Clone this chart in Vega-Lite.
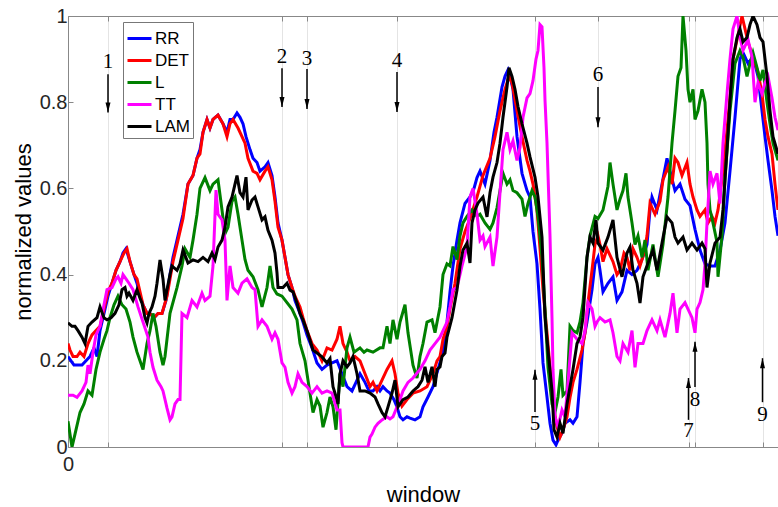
{
"$schema": "https://vega.github.io/schema/vega-lite/v6.json",
"width": 710, "height": 431,
"autosize": {"type": "none"},
"padding": {"left": 68, "top": 16, "right": 0, "bottom": 60},
"background": "white",
"config": {"view": {"stroke": null}, "font": "Liberation Sans"},
"datasets": {
"ann": [
{"lab":"1","x":40,"ty":0.893,"y1":0.865,"y2":0.776,"dir":"down"},
{"lab":"2","x":214,"ty":0.905,"y1":0.879,"y2":0.789,"dir":"down"},
{"lab":"3","x":239,"ty":0.900,"y1":0.877,"y2":0.784,"dir":"down"},
{"lab":"4","x":329,"ty":0.896,"y1":0.870,"y2":0.777,"dir":"down"},
{"lab":"5","x":467,"ty":0.053,"y1":0.081,"y2":0.179,"dir":"up"},
{"lab":"6","x":530,"ty":0.864,"y1":0.835,"y2":0.742,"dir":"down"},
{"lab":"7","x":620.5,"ty":0.037,"y1":0.063,"y2":0.160,"dir":"up"},
{"lab":"8","x":627,"ty":0.109,"y1":0.139,"y2":0.244,"dir":"up"},
{"lab":"9","x":694.5,"ty":0.074,"y1":0.104,"y2":0.206,"dir":"up"}
],
"series": [
{"s":"RR","x":0,"v":0.21},{"s":"RR","x":3,"v":0.2},{"s":"RR","x":6,"v":0.19},{"s":"RR","x":10,"v":0.19},{"s":"RR","x":14,"v":0.19},{"s":"RR","x":18,"v":0.2},{"s":"RR","x":22,"v":0.21},{"s":"RR","x":26,"v":0.23},{"s":"RR","x":29,"v":0.21},{"s":"RR","x":32,"v":0.27},{"s":"RR","x":36,"v":0.31},{"s":"RR","x":40,"v":0.35},{"s":"RR","x":44,"v":0.38},{"s":"RR","x":48,"v":0.41},{"s":"RR","x":52,"v":0.43},{"s":"RR","x":55,"v":0.45},{"s":"RR","x":58,"v":0.46},{"s":"RR","x":62,"v":0.43},{"s":"RR","x":66,"v":0.40},{"s":"RR","x":69,"v":0.38},{"s":"RR","x":72,"v":0.35},{"s":"RR","x":75,"v":0.33},{"s":"RR","x":79,"v":0.31},{"s":"RR","x":82,"v":0.31},{"s":"RR","x":86,"v":0.30},{"s":"RR","x":90,"v":0.31},{"s":"RR","x":94,"v":0.31},{"s":"RR","x":98,"v":0.34},{"s":"RR","x":102,"v":0.40},{"s":"RR","x":105,"v":0.44},{"s":"RR","x":110,"v":0.49},{"s":"RR","x":115,"v":0.54},{"s":"RR","x":120,"v":0.61},{"s":"RR","x":125,"v":0.63},{"s":"RR","x":129,"v":0.67},{"s":"RR","x":132,"v":0.69},{"s":"RR","x":135,"v":0.73},{"s":"RR","x":139,"v":0.76},{"s":"RR","x":142,"v":0.74},{"s":"RR","x":145,"v":0.76},{"s":"RR","x":150,"v":0.77},{"s":"RR","x":155,"v":0.75},{"s":"RR","x":159,"v":0.73},{"s":"RR","x":162,"v":0.76},{"s":"RR","x":165,"v":0.76},{"s":"RR","x":169,"v":0.775},{"s":"RR","x":172,"v":0.765},{"s":"RR","x":175,"v":0.75},{"s":"RR","x":178,"v":0.72},{"s":"RR","x":182,"v":0.69},{"s":"RR","x":185,"v":0.67},{"s":"RR","x":189,"v":0.66},{"s":"RR","x":192,"v":0.64},{"s":"RR","x":197,"v":0.65},{"s":"RR","x":200,"v":0.66},{"s":"RR","x":204,"v":0.63},{"s":"RR","x":207,"v":0.58},{"s":"RR","x":210,"v":0.52},{"s":"RR","x":214,"v":0.48},{"s":"RR","x":217,"v":0.44},{"s":"RR","x":220,"v":0.40},{"s":"RR","x":224,"v":0.37},{"s":"RR","x":227,"v":0.34},{"s":"RR","x":232,"v":0.31},{"s":"RR","x":235,"v":0.29},{"s":"RR","x":239,"v":0.26},{"s":"RR","x":244,"v":0.23},{"s":"RR","x":249,"v":0.195},{"s":"RR","x":254,"v":0.18},{"s":"RR","x":259,"v":0.19},{"s":"RR","x":264,"v":0.195},{"s":"RR","x":269,"v":0.2},{"s":"RR","x":274,"v":0.17},{"s":"RR","x":279,"v":0.14},{"s":"RR","x":284,"v":0.13},{"s":"RR","x":288,"v":0.15},{"s":"RR","x":292,"v":0.17},{"s":"RR","x":297,"v":0.15},{"s":"RR","x":301,"v":0.13},{"s":"RR","x":305,"v":0.13},{"s":"RR","x":309,"v":0.14},{"s":"RR","x":312,"v":0.13},{"s":"RR","x":315,"v":0.14},{"s":"RR","x":319,"v":0.13},{"s":"RR","x":322,"v":0.125},{"s":"RR","x":326,"v":0.11},{"s":"RR","x":329,"v":0.093},{"s":"RR","x":332,"v":0.07},{"s":"RR","x":335,"v":0.063},{"s":"RR","x":339,"v":0.07},{"s":"RR","x":342,"v":0.067},{"s":"RR","x":347,"v":0.063},{"s":"RR","x":352,"v":0.07},{"s":"RR","x":355,"v":0.093},{"s":"RR","x":360,"v":0.116},{"s":"RR","x":365,"v":0.14},{"s":"RR","x":370,"v":0.18},{"s":"RR","x":375,"v":0.22},{"s":"RR","x":379,"v":0.29},{"s":"RR","x":382,"v":0.36},{"s":"RR","x":385,"v":0.42},{"s":"RR","x":389,"v":0.48},{"s":"RR","x":392,"v":0.52},{"s":"RR","x":397,"v":0.565},{"s":"RR","x":402,"v":0.58},{"s":"RR","x":406,"v":0.60},{"s":"RR","x":409,"v":0.625},{"s":"RR","x":412,"v":0.64},{"s":"RR","x":417,"v":0.61},{"s":"RR","x":422,"v":0.665},{"s":"RR","x":426,"v":0.73},{"s":"RR","x":429,"v":0.765},{"s":"RR","x":434,"v":0.835},{"s":"RR","x":437,"v":0.86},{"s":"RR","x":440,"v":0.875},{"s":"RR","x":442,"v":0.86},{"s":"RR","x":445,"v":0.83},{"s":"RR","x":449,"v":0.72},{"s":"RR","x":454,"v":0.635},{"s":"RR","x":459,"v":0.595},{"s":"RR","x":462,"v":0.58},{"s":"RR","x":465,"v":0.50},{"s":"RR","x":469,"v":0.425},{"s":"RR","x":472,"v":0.32},{"s":"RR","x":475,"v":0.195},{"s":"RR","x":479,"v":0.116},{"s":"RR","x":482,"v":0.055},{"s":"RR","x":485,"v":0.016},{"s":"RR","x":488,"v":0.005},{"s":"RR","x":490,"v":0.016},{"s":"RR","x":494,"v":0.032},{"s":"RR","x":497,"v":0.055},{"s":"RR","x":502,"v":0.063},{"s":"RR","x":505,"v":0.055},{"s":"RR","x":509,"v":0.07},{"s":"RR","x":512,"v":0.15},{"s":"RR","x":515,"v":0.24},{"s":"RR","x":519,"v":0.29},{"s":"RR","x":524,"v":0.365},{"s":"RR","x":527,"v":0.425},{"s":"RR","x":530,"v":0.44},{"s":"RR","x":532,"v":0.41},{"s":"RR","x":535,"v":0.36},{"s":"RR","x":540,"v":0.38},{"s":"RR","x":545,"v":0.395},{"s":"RR","x":549,"v":0.34},{"s":"RR","x":554,"v":0.36},{"s":"RR","x":559,"v":0.41},{"s":"RR","x":564,"v":0.40},{"s":"RR","x":569,"v":0.41},{"s":"RR","x":574,"v":0.435},{"s":"RR","x":579,"v":0.47},{"s":"RR","x":582,"v":0.55},{"s":"RR","x":584,"v":0.58},{"s":"RR","x":589,"v":0.55},{"s":"RR","x":594,"v":0.61},{"s":"RR","x":599,"v":0.67},{"s":"RR","x":602,"v":0.64},{"s":"RR","x":607,"v":0.595},{"s":"RR","x":612,"v":0.61},{"s":"RR","x":617,"v":0.575},{"s":"RR","x":622,"v":0.56},{"s":"RR","x":627,"v":0.505},{"s":"RR","x":632,"v":0.457},{"s":"RR","x":637,"v":0.425},{"s":"RR","x":642,"v":0.42},{"s":"RR","x":647,"v":0.42},{"s":"RR","x":652,"v":0.457},{"s":"RR","x":657,"v":0.52},{"s":"RR","x":662,"v":0.64},{"s":"RR","x":667,"v":0.765},{"s":"RR","x":672,"v":0.90},{"s":"RR","x":675,"v":0.915},{"s":"RR","x":680,"v":0.89},{"s":"RR","x":685,"v":0.905},{"s":"RR","x":690,"v":0.86},{"s":"RR","x":694,"v":0.78},{"s":"RR","x":697,"v":0.72},{"s":"RR","x":700,"v":0.665},{"s":"RR","x":704,"v":0.595},{"s":"RR","x":707,"v":0.535},{"s":"RR","x":710,"v":0.49},
{"s":"DET","x":0,"v":0.24},{"s":"DET","x":2,"v":0.225},{"s":"DET","x":5,"v":0.21},{"s":"DET","x":9,"v":0.21},{"s":"DET","x":12,"v":0.22},{"s":"DET","x":16,"v":0.21},{"s":"DET","x":20,"v":0.24},{"s":"DET","x":24,"v":0.26},{"s":"DET","x":28,"v":0.27},{"s":"DET","x":32,"v":0.28},{"s":"DET","x":36,"v":0.32},{"s":"DET","x":40,"v":0.36},{"s":"DET","x":44,"v":0.38},{"s":"DET","x":48,"v":0.41},{"s":"DET","x":52,"v":0.43},{"s":"DET","x":56,"v":0.45},{"s":"DET","x":59,"v":0.46},{"s":"DET","x":62,"v":0.43},{"s":"DET","x":66,"v":0.40},{"s":"DET","x":69,"v":0.39},{"s":"DET","x":72,"v":0.36},{"s":"DET","x":75,"v":0.33},{"s":"DET","x":79,"v":0.31},{"s":"DET","x":82,"v":0.31},{"s":"DET","x":86,"v":0.30},{"s":"DET","x":90,"v":0.31},{"s":"DET","x":94,"v":0.31},{"s":"DET","x":99,"v":0.35},{"s":"DET","x":105,"v":0.43},{"s":"DET","x":110,"v":0.48},{"s":"DET","x":115,"v":0.53},{"s":"DET","x":120,"v":0.61},{"s":"DET","x":125,"v":0.63},{"s":"DET","x":129,"v":0.67},{"s":"DET","x":132,"v":0.68},{"s":"DET","x":135,"v":0.73},{"s":"DET","x":139,"v":0.76},{"s":"DET","x":142,"v":0.74},{"s":"DET","x":145,"v":0.76},{"s":"DET","x":150,"v":0.77},{"s":"DET","x":155,"v":0.75},{"s":"DET","x":159,"v":0.72},{"s":"DET","x":162,"v":0.75},{"s":"DET","x":165,"v":0.76},{"s":"DET","x":170,"v":0.74},{"s":"DET","x":174,"v":0.72},{"s":"DET","x":177,"v":0.705},{"s":"DET","x":180,"v":0.67},{"s":"DET","x":185,"v":0.64},{"s":"DET","x":189,"v":0.635},{"s":"DET","x":192,"v":0.62},{"s":"DET","x":197,"v":0.64},{"s":"DET","x":200,"v":0.65},{"s":"DET","x":204,"v":0.62},{"s":"DET","x":207,"v":0.57},{"s":"DET","x":210,"v":0.51},{"s":"DET","x":214,"v":0.48},{"s":"DET","x":217,"v":0.44},{"s":"DET","x":220,"v":0.40},{"s":"DET","x":224,"v":0.37},{"s":"DET","x":227,"v":0.35},{"s":"DET","x":232,"v":0.325},{"s":"DET","x":235,"v":0.30},{"s":"DET","x":239,"v":0.27},{"s":"DET","x":244,"v":0.24},{"s":"DET","x":249,"v":0.225},{"s":"DET","x":254,"v":0.20},{"s":"DET","x":259,"v":0.23},{"s":"DET","x":264,"v":0.225},{"s":"DET","x":269,"v":0.25},{"s":"DET","x":272,"v":0.28},{"s":"DET","x":275,"v":0.24},{"s":"DET","x":279,"v":0.22},{"s":"DET","x":282,"v":0.2},{"s":"DET","x":287,"v":0.21},{"s":"DET","x":292,"v":0.2},{"s":"DET","x":297,"v":0.17},{"s":"DET","x":302,"v":0.14},{"s":"DET","x":305,"v":0.15},{"s":"DET","x":309,"v":0.13},{"s":"DET","x":314,"v":0.155},{"s":"DET","x":319,"v":0.18},{"s":"DET","x":324,"v":0.2},{"s":"DET","x":327,"v":0.17},{"s":"DET","x":330,"v":0.125},{"s":"DET","x":334,"v":0.095},{"s":"DET","x":339,"v":0.11},{"s":"DET","x":345,"v":0.125},{"s":"DET","x":352,"v":0.13},{"s":"DET","x":359,"v":0.14},{"s":"DET","x":365,"v":0.17},{"s":"DET","x":369,"v":0.2},{"s":"DET","x":372,"v":0.21},{"s":"DET","x":375,"v":0.25},{"s":"DET","x":379,"v":0.28},{"s":"DET","x":382,"v":0.32},{"s":"DET","x":387,"v":0.38},{"s":"DET","x":392,"v":0.46},{"s":"DET","x":397,"v":0.50},{"s":"DET","x":402,"v":0.53},{"s":"DET","x":409,"v":0.58},{"s":"DET","x":415,"v":0.63},{"s":"DET","x":422,"v":0.67},{"s":"DET","x":427,"v":0.72},{"s":"DET","x":432,"v":0.78},{"s":"DET","x":437,"v":0.83},{"s":"DET","x":441,"v":0.86},{"s":"DET","x":444,"v":0.845},{"s":"DET","x":449,"v":0.78},{"s":"DET","x":454,"v":0.72},{"s":"DET","x":459,"v":0.665},{"s":"DET","x":462,"v":0.64},{"s":"DET","x":465,"v":0.61},{"s":"DET","x":469,"v":0.55},{"s":"DET","x":472,"v":0.46},{"s":"DET","x":475,"v":0.365},{"s":"DET","x":479,"v":0.265},{"s":"DET","x":482,"v":0.185},{"s":"DET","x":485,"v":0.10},{"s":"DET","x":489,"v":0.047},{"s":"DET","x":492,"v":0.023},{"s":"DET","x":495,"v":0.04},{"s":"DET","x":499,"v":0.07},{"s":"DET","x":502,"v":0.115},{"s":"DET","x":505,"v":0.15},{"s":"DET","x":509,"v":0.18},{"s":"DET","x":514,"v":0.225},{"s":"DET","x":517,"v":0.265},{"s":"DET","x":520,"v":0.335},{"s":"DET","x":524,"v":0.41},{"s":"DET","x":527,"v":0.47},{"s":"DET","x":530,"v":0.49},{"s":"DET","x":532,"v":0.47},{"s":"DET","x":535,"v":0.43},{"s":"DET","x":539,"v":0.46},{"s":"DET","x":545,"v":0.43},{"s":"DET","x":549,"v":0.40},{"s":"DET","x":552,"v":0.41},{"s":"DET","x":556,"v":0.45},{"s":"DET","x":559,"v":0.44},{"s":"DET","x":562,"v":0.41},{"s":"DET","x":565,"v":0.46},{"s":"DET","x":569,"v":0.44},{"s":"DET","x":572,"v":0.42},{"s":"DET","x":576,"v":0.45},{"s":"DET","x":579,"v":0.49},{"s":"DET","x":582,"v":0.565},{"s":"DET","x":587,"v":0.54},{"s":"DET","x":592,"v":0.57},{"s":"DET","x":595,"v":0.62},{"s":"DET","x":600,"v":0.65},{"s":"DET","x":604,"v":0.61},{"s":"DET","x":607,"v":0.67},{"s":"DET","x":610,"v":0.66},{"s":"DET","x":614,"v":0.63},{"s":"DET","x":619,"v":0.66},{"s":"DET","x":622,"v":0.61},{"s":"DET","x":625,"v":0.58},{"s":"DET","x":629,"v":0.55},{"s":"DET","x":632,"v":0.535},{"s":"DET","x":637,"v":0.55},{"s":"DET","x":640,"v":0.52},{"s":"DET","x":644,"v":0.535},{"s":"DET","x":647,"v":0.52},{"s":"DET","x":650,"v":0.55},{"s":"DET","x":655,"v":0.64},{"s":"DET","x":659,"v":0.735},{"s":"DET","x":662,"v":0.81},{"s":"DET","x":665,"v":0.90},{"s":"DET","x":669,"v":0.945},{"s":"DET","x":674,"v":1.0},{"s":"DET","x":677,"v":0.97},{"s":"DET","x":680,"v":0.94},{"s":"DET","x":685,"v":0.905},{"s":"DET","x":690,"v":0.87},{"s":"DET","x":694,"v":0.82},{"s":"DET","x":697,"v":0.76},{"s":"DET","x":700,"v":0.72},{"s":"DET","x":704,"v":0.68},{"s":"DET","x":707,"v":0.61},{"s":"DET","x":710,"v":0.55},
{"s":"L","x":0,"v":0.06},{"s":"L","x":4,"v":0.0},{"s":"L","x":7,"v":0.03},{"s":"L","x":12,"v":0.08},{"s":"L","x":16,"v":0.1},{"s":"L","x":20,"v":0.13},{"s":"L","x":24,"v":0.12},{"s":"L","x":28,"v":0.18},{"s":"L","x":32,"v":0.22},{"s":"L","x":36,"v":0.25},{"s":"L","x":39,"v":0.27},{"s":"L","x":42,"v":0.30},{"s":"L","x":46,"v":0.33},{"s":"L","x":50,"v":0.35},{"s":"L","x":54,"v":0.33},{"s":"L","x":58,"v":0.32},{"s":"L","x":62,"v":0.29},{"s":"L","x":65,"v":0.255},{"s":"L","x":69,"v":0.22},{"s":"L","x":72,"v":0.2},{"s":"L","x":75,"v":0.18},{"s":"L","x":79,"v":0.24},{"s":"L","x":82,"v":0.27},{"s":"L","x":85,"v":0.31},{"s":"L","x":88,"v":0.28},{"s":"L","x":92,"v":0.22},{"s":"L","x":95,"v":0.19},{"s":"L","x":97,"v":0.21},{"s":"L","x":102,"v":0.31},{"s":"L","x":109,"v":0.37},{"s":"L","x":114,"v":0.42},{"s":"L","x":117,"v":0.46},{"s":"L","x":122,"v":0.44},{"s":"L","x":125,"v":0.48},{"s":"L","x":129,"v":0.54},{"s":"L","x":132,"v":0.60},{"s":"L","x":137,"v":0.625},{"s":"L","x":142,"v":0.595},{"s":"L","x":145,"v":0.61},{"s":"L","x":150,"v":0.62},{"s":"L","x":154,"v":0.55},{"s":"L","x":157,"v":0.495},{"s":"L","x":160,"v":0.51},{"s":"L","x":164,"v":0.57},{"s":"L","x":167,"v":0.58},{"s":"L","x":170,"v":0.54},{"s":"L","x":174,"v":0.48},{"s":"L","x":177,"v":0.435},{"s":"L","x":180,"v":0.41},{"s":"L","x":185,"v":0.395},{"s":"L","x":190,"v":0.365},{"s":"L","x":194,"v":0.325},{"s":"L","x":199,"v":0.37},{"s":"L","x":202,"v":0.42},{"s":"L","x":205,"v":0.37},{"s":"L","x":209,"v":0.355},{"s":"L","x":214,"v":0.35},{"s":"L","x":219,"v":0.335},{"s":"L","x":224,"v":0.32},{"s":"L","x":229,"v":0.295},{"s":"L","x":232,"v":0.24},{"s":"L","x":237,"v":0.20},{"s":"L","x":242,"v":0.125},{"s":"L","x":245,"v":0.08},{"s":"L","x":249,"v":0.11},{"s":"L","x":252,"v":0.095},{"s":"L","x":255,"v":0.046},{"s":"L","x":259,"v":0.08},{"s":"L","x":262,"v":0.116},{"s":"L","x":265,"v":0.093},{"s":"L","x":268,"v":0.04},{"s":"L","x":272,"v":0.17},{"s":"L","x":275,"v":0.14},{"s":"L","x":279,"v":0.23},{"s":"L","x":282,"v":0.255},{"s":"L","x":286,"v":0.22},{"s":"L","x":292,"v":0.23},{"s":"L","x":296,"v":0.22},{"s":"L","x":299,"v":0.225},{"s":"L","x":305,"v":0.22},{"s":"L","x":312,"v":0.23},{"s":"L","x":315,"v":0.23},{"s":"L","x":319,"v":0.28},{"s":"L","x":322,"v":0.24},{"s":"L","x":325,"v":0.295},{"s":"L","x":329,"v":0.25},{"s":"L","x":332,"v":0.29},{"s":"L","x":337,"v":0.33},{"s":"L","x":340,"v":0.265},{"s":"L","x":345,"v":0.19},{"s":"L","x":349,"v":0.16},{"s":"L","x":352,"v":0.21},{"s":"L","x":355,"v":0.24},{"s":"L","x":359,"v":0.29},{"s":"L","x":364,"v":0.295},{"s":"L","x":367,"v":0.265},{"s":"L","x":372,"v":0.325},{"s":"L","x":375,"v":0.40},{"s":"L","x":379,"v":0.425},{"s":"L","x":382,"v":0.42},{"s":"L","x":385,"v":0.465},{"s":"L","x":389,"v":0.435},{"s":"L","x":392,"v":0.49},{"s":"L","x":395,"v":0.52},{"s":"L","x":399,"v":0.535},{"s":"L","x":404,"v":0.55},{"s":"L","x":409,"v":0.535},{"s":"L","x":412,"v":0.54},{"s":"L","x":417,"v":0.52},{"s":"L","x":422,"v":0.505},{"s":"L","x":425,"v":0.52},{"s":"L","x":429,"v":0.555},{"s":"L","x":432,"v":0.595},{"s":"L","x":435,"v":0.635},{"s":"L","x":439,"v":0.61},{"s":"L","x":442,"v":0.62},{"s":"L","x":445,"v":0.595},{"s":"L","x":449,"v":0.59},{"s":"L","x":454,"v":0.575},{"s":"L","x":457,"v":0.535},{"s":"L","x":460,"v":0.565},{"s":"L","x":464,"v":0.595},{"s":"L","x":467,"v":0.58},{"s":"L","x":470,"v":0.535},{"s":"L","x":474,"v":0.44},{"s":"L","x":477,"v":0.32},{"s":"L","x":480,"v":0.185},{"s":"L","x":484,"v":0.10},{"s":"L","x":487,"v":0.08},{"s":"L","x":490,"v":0.116},{"s":"L","x":493,"v":0.18},{"s":"L","x":495,"v":0.12},{"s":"L","x":499,"v":0.13},{"s":"L","x":502,"v":0.28},{"s":"L","x":505,"v":0.27},{"s":"L","x":509,"v":0.265},{"s":"L","x":512,"v":0.29},{"s":"L","x":515,"v":0.335},{"s":"L","x":519,"v":0.44},{"s":"L","x":522,"v":0.49},{"s":"L","x":527,"v":0.535},{"s":"L","x":530,"v":0.53},{"s":"L","x":535,"v":0.55},{"s":"L","x":540,"v":0.605},{"s":"L","x":542,"v":0.66},{"s":"L","x":545,"v":0.61},{"s":"L","x":549,"v":0.55},{"s":"L","x":552,"v":0.575},{"s":"L","x":555,"v":0.595},{"s":"L","x":558,"v":0.635},{"s":"L","x":560,"v":0.58},{"s":"L","x":564,"v":0.52},{"s":"L","x":567,"v":0.47},{"s":"L","x":570,"v":0.49},{"s":"L","x":574,"v":0.44},{"s":"L","x":577,"v":0.48},{"s":"L","x":580,"v":0.41},{"s":"L","x":585,"v":0.47},{"s":"L","x":590,"v":0.395},{"s":"L","x":595,"v":0.47},{"s":"L","x":600,"v":0.58},{"s":"L","x":604,"v":0.705},{"s":"L","x":607,"v":0.78},{"s":"L","x":610,"v":0.86},{"s":"L","x":613,"v":0.88},{"s":"L","x":615,"v":1.0},{"s":"L","x":618,"v":0.92},{"s":"L","x":620,"v":0.83},{"s":"L","x":622,"v":0.80},{"s":"L","x":625,"v":0.83},{"s":"L","x":627,"v":0.76},{"s":"L","x":630,"v":0.78},{"s":"L","x":634,"v":0.83},{"s":"L","x":637,"v":0.80},{"s":"L","x":639,"v":0.705},{"s":"L","x":640,"v":0.61},{"s":"L","x":642,"v":0.55},{"s":"L","x":645,"v":0.52},{"s":"L","x":649,"v":0.475},{"s":"L","x":650,"v":0.395},{"s":"L","x":654,"v":0.49},{"s":"L","x":657,"v":0.625},{"s":"L","x":662,"v":0.78},{"s":"L","x":667,"v":0.89},{"s":"L","x":672,"v":0.92},{"s":"L","x":675,"v":0.905},{"s":"L","x":679,"v":0.86},{"s":"L","x":682,"v":0.89},{"s":"L","x":685,"v":0.915},{"s":"L","x":689,"v":0.88},{"s":"L","x":692,"v":0.85},{"s":"L","x":695,"v":0.875},{"s":"L","x":699,"v":0.80},{"s":"L","x":702,"v":0.75},{"s":"L","x":705,"v":0.705},{"s":"L","x":710,"v":0.665},
{"s":"TT","x":0,"v":0.12},{"s":"TT","x":5,"v":0.12},{"s":"TT","x":9,"v":0.115},{"s":"TT","x":14,"v":0.13},{"s":"TT","x":18,"v":0.15},{"s":"TT","x":20,"v":0.19},{"s":"TT","x":22,"v":0.17},{"s":"TT","x":25,"v":0.22},{"s":"TT","x":28,"v":0.26},{"s":"TT","x":32,"v":0.28},{"s":"TT","x":36,"v":0.33},{"s":"TT","x":39,"v":0.365},{"s":"TT","x":44,"v":0.37},{"s":"TT","x":48,"v":0.39},{"s":"TT","x":50,"v":0.395},{"s":"TT","x":53,"v":0.38},{"s":"TT","x":55,"v":0.40},{"s":"TT","x":58,"v":0.39},{"s":"TT","x":61,"v":0.38},{"s":"TT","x":65,"v":0.365},{"s":"TT","x":70,"v":0.325},{"s":"TT","x":75,"v":0.29},{"s":"TT","x":80,"v":0.255},{"s":"TT","x":82,"v":0.22},{"s":"TT","x":85,"v":0.185},{"s":"TT","x":89,"v":0.155},{"s":"TT","x":93,"v":0.14},{"s":"TT","x":95,"v":0.13},{"s":"TT","x":99,"v":0.09},{"s":"TT","x":102,"v":0.063},{"s":"TT","x":104,"v":0.07},{"s":"TT","x":107,"v":0.1},{"s":"TT","x":110,"v":0.11},{"s":"TT","x":112,"v":0.11},{"s":"TT","x":114,"v":0.31},{"s":"TT","x":119,"v":0.30},{"s":"TT","x":124,"v":0.34},{"s":"TT","x":129,"v":0.325},{"s":"TT","x":134,"v":0.357},{"s":"TT","x":137,"v":0.34},{"s":"TT","x":142,"v":0.35},{"s":"TT","x":145,"v":0.42},{"s":"TT","x":148,"v":0.596},{"s":"TT","x":150,"v":0.54},{"s":"TT","x":154,"v":0.527},{"s":"TT","x":157,"v":0.48},{"s":"TT","x":159,"v":0.34},{"s":"TT","x":162,"v":0.42},{"s":"TT","x":165,"v":0.37},{"s":"TT","x":170,"v":0.357},{"s":"TT","x":174,"v":0.38},{"s":"TT","x":179,"v":0.39},{"s":"TT","x":184,"v":0.37},{"s":"TT","x":187,"v":0.365},{"s":"TT","x":190,"v":0.28},{"s":"TT","x":194,"v":0.295},{"s":"TT","x":199,"v":0.28},{"s":"TT","x":204,"v":0.25},{"s":"TT","x":207,"v":0.265},{"s":"TT","x":210,"v":0.25},{"s":"TT","x":214,"v":0.195},{"s":"TT","x":217,"v":0.185},{"s":"TT","x":220,"v":0.15},{"s":"TT","x":224,"v":0.125},{"s":"TT","x":227,"v":0.14},{"s":"TT","x":230,"v":0.17},{"s":"TT","x":234,"v":0.15},{"s":"TT","x":239,"v":0.14},{"s":"TT","x":244,"v":0.125},{"s":"TT","x":249,"v":0.14},{"s":"TT","x":254,"v":0.125},{"s":"TT","x":259,"v":0.13},{"s":"TT","x":264,"v":0.125},{"s":"TT","x":269,"v":0.086},{"s":"TT","x":272,"v":0.086},{"s":"TT","x":274,"v":0.01},{"s":"TT","x":275,"v":0},{"s":"TT","x":285,"v":0},{"s":"TT","x":300,"v":0},{"s":"TT","x":302,"v":0.023},{"s":"TT","x":304,"v":0.03},{"s":"TT","x":307,"v":0.046},{"s":"TT","x":310,"v":0.055},{"s":"TT","x":314,"v":0.063},{"s":"TT","x":319,"v":0.07},{"s":"TT","x":322,"v":0.065},{"s":"TT","x":325,"v":0.07},{"s":"TT","x":329,"v":0.093},{"s":"TT","x":332,"v":0.11},{"s":"TT","x":335,"v":0.13},{"s":"TT","x":340,"v":0.15},{"s":"TT","x":345,"v":0.16},{"s":"TT","x":352,"v":0.18},{"s":"TT","x":357,"v":0.2},{"s":"TT","x":362,"v":0.225},{"s":"TT","x":367,"v":0.24},{"s":"TT","x":372,"v":0.255},{"s":"TT","x":379,"v":0.29},{"s":"TT","x":382,"v":0.325},{"s":"TT","x":385,"v":0.365},{"s":"TT","x":389,"v":0.37},{"s":"TT","x":394,"v":0.42},{"s":"TT","x":399,"v":0.465},{"s":"TT","x":402,"v":0.58},{"s":"TT","x":405,"v":0.6},{"s":"TT","x":409,"v":0.54},{"s":"TT","x":412,"v":0.48},{"s":"TT","x":415,"v":0.49},{"s":"TT","x":417,"v":0.465},{"s":"TT","x":422,"v":0.487},{"s":"TT","x":425,"v":0.42},{"s":"TT","x":429,"v":0.487},{"s":"TT","x":432,"v":0.59},{"s":"TT","x":435,"v":0.69},{"s":"TT","x":439,"v":0.73},{"s":"TT","x":442,"v":0.69},{"s":"TT","x":445,"v":0.71},{"s":"TT","x":449,"v":0.665},{"s":"TT","x":452,"v":0.695},{"s":"TT","x":455,"v":0.765},{"s":"TT","x":459,"v":0.81},{"s":"TT","x":462,"v":0.82},{"s":"TT","x":465,"v":0.85},{"s":"TT","x":468,"v":0.9},{"s":"TT","x":470,"v":0.92},{"s":"TT","x":472,"v":0.98},{"s":"TT","x":474,"v":0.975},{"s":"TT","x":476,"v":0.88},{"s":"TT","x":477,"v":0.805},{"s":"TT","x":479,"v":0.705},{"s":"TT","x":482,"v":0.49},{"s":"TT","x":484,"v":0.30},{"s":"TT","x":485,"v":0.18},{"s":"TT","x":487,"v":0.07},{"s":"TT","x":490,"v":0.046},{"s":"TT","x":494,"v":0.086},{"s":"TT","x":497,"v":0.07},{"s":"TT","x":500,"v":0.15},{"s":"TT","x":504,"v":0.265},{"s":"TT","x":509,"v":0.25},{"s":"TT","x":514,"v":0.24},{"s":"TT","x":517,"v":0.27},{"s":"TT","x":520,"v":0.335},{"s":"TT","x":524,"v":0.32},{"s":"TT","x":527,"v":0.28},{"s":"TT","x":529,"v":0.29},{"s":"TT","x":532,"v":0.30},{"s":"TT","x":537,"v":0.29},{"s":"TT","x":542,"v":0.295},{"s":"TT","x":545,"v":0.265},{"s":"TT","x":549,"v":0.21},{"s":"TT","x":552,"v":0.2},{"s":"TT","x":555,"v":0.24},{"s":"TT","x":560,"v":0.22},{"s":"TT","x":564,"v":0.27},{"s":"TT","x":567,"v":0.185},{"s":"TT","x":570,"v":0.24},{"s":"TT","x":575,"v":0.24},{"s":"TT","x":579,"v":0.27},{"s":"TT","x":584,"v":0.295},{"s":"TT","x":589,"v":0.27},{"s":"TT","x":592,"v":0.295},{"s":"TT","x":597,"v":0.255},{"s":"TT","x":602,"v":0.31},{"s":"TT","x":605,"v":0.357},{"s":"TT","x":609,"v":0.265},{"s":"TT","x":612,"v":0.32},{"s":"TT","x":617,"v":0.335},{"s":"TT","x":620,"v":0.32},{"s":"TT","x":624,"v":0.30},{"s":"TT","x":627,"v":0.265},{"s":"TT","x":629,"v":0.32},{"s":"TT","x":632,"v":0.335},{"s":"TT","x":635,"v":0.365},{"s":"TT","x":637,"v":0.425},{"s":"TT","x":639,"v":0.52},{"s":"TT","x":642,"v":0.64},{"s":"TT","x":645,"v":0.61},{"s":"TT","x":649,"v":0.635},{"s":"TT","x":652,"v":0.565},{"s":"TT","x":655,"v":0.705},{"s":"TT","x":659,"v":0.82},{"s":"TT","x":662,"v":0.9},{"s":"TT","x":665,"v":0.97},{"s":"TT","x":669,"v":1.0},{"s":"TT","x":672,"v":0.95},{"s":"TT","x":675,"v":0.92},{"s":"TT","x":680,"v":0.945},{"s":"TT","x":684,"v":0.905},{"s":"TT","x":687,"v":0.80},{"s":"TT","x":690,"v":0.845},{"s":"TT","x":694,"v":0.82},{"s":"TT","x":697,"v":0.845},{"s":"TT","x":700,"v":0.86},{"s":"TT","x":704,"v":0.81},{"s":"TT","x":707,"v":0.765},{"s":"TT","x":710,"v":0.735},
{"s":"LAM","x":0,"v":0.288},{"s":"LAM","x":4,"v":0.28},{"s":"LAM","x":7,"v":0.28},{"s":"LAM","x":10,"v":0.27},{"s":"LAM","x":14,"v":0.255},{"s":"LAM","x":17,"v":0.24},{"s":"LAM","x":20,"v":0.28},{"s":"LAM","x":24,"v":0.29},{"s":"LAM","x":29,"v":0.30},{"s":"LAM","x":32,"v":0.325},{"s":"LAM","x":36,"v":0.30},{"s":"LAM","x":39,"v":0.295},{"s":"LAM","x":43,"v":0.30},{"s":"LAM","x":47,"v":0.31},{"s":"LAM","x":51,"v":0.33},{"s":"LAM","x":54,"v":0.365},{"s":"LAM","x":57,"v":0.37},{"s":"LAM","x":59,"v":0.35},{"s":"LAM","x":61,"v":0.357},{"s":"LAM","x":65,"v":0.34},{"s":"LAM","x":69,"v":0.365},{"s":"LAM","x":72,"v":0.345},{"s":"LAM","x":74,"v":0.334},{"s":"LAM","x":77,"v":0.30},{"s":"LAM","x":79,"v":0.288},{"s":"LAM","x":81,"v":0.31},{"s":"LAM","x":84,"v":0.325},{"s":"LAM","x":87,"v":0.35},{"s":"LAM","x":89,"v":0.38},{"s":"LAM","x":92,"v":0.434},{"s":"LAM","x":95,"v":0.39},{"s":"LAM","x":97,"v":0.34},{"s":"LAM","x":99,"v":0.365},{"s":"LAM","x":102,"v":0.40},{"s":"LAM","x":104,"v":0.42},{"s":"LAM","x":109,"v":0.41},{"s":"LAM","x":112,"v":0.425},{"s":"LAM","x":115,"v":0.457},{"s":"LAM","x":120,"v":0.427},{"s":"LAM","x":125,"v":0.434},{"s":"LAM","x":130,"v":0.43},{"s":"LAM","x":135,"v":0.44},{"s":"LAM","x":140,"v":0.43},{"s":"LAM","x":144,"v":0.45},{"s":"LAM","x":147,"v":0.435},{"s":"LAM","x":150,"v":0.464},{"s":"LAM","x":154,"v":0.48},{"s":"LAM","x":157,"v":0.51},{"s":"LAM","x":160,"v":0.557},{"s":"LAM","x":164,"v":0.58},{"s":"LAM","x":167,"v":0.61},{"s":"LAM","x":169,"v":0.63},{"s":"LAM","x":172,"v":0.59},{"s":"LAM","x":175,"v":0.58},{"s":"LAM","x":178,"v":0.626},{"s":"LAM","x":180,"v":0.55},{"s":"LAM","x":184,"v":0.573},{"s":"LAM","x":187,"v":0.58},{"s":"LAM","x":190,"v":0.557},{"s":"LAM","x":194,"v":0.527},{"s":"LAM","x":197,"v":0.534},{"s":"LAM","x":200,"v":0.503},{"s":"LAM","x":204,"v":0.48},{"s":"LAM","x":207,"v":0.45},{"s":"LAM","x":209,"v":0.404},{"s":"LAM","x":210,"v":0.37},{"s":"LAM","x":215,"v":0.37},{"s":"LAM","x":219,"v":0.38},{"s":"LAM","x":222,"v":0.364},{"s":"LAM","x":225,"v":0.36},{"s":"LAM","x":229,"v":0.334},{"s":"LAM","x":232,"v":0.31},{"s":"LAM","x":235,"v":0.295},{"s":"LAM","x":239,"v":0.27},{"s":"LAM","x":242,"v":0.248},{"s":"LAM","x":245,"v":0.225},{"s":"LAM","x":249,"v":0.218},{"s":"LAM","x":254,"v":0.209},{"s":"LAM","x":259,"v":0.195},{"s":"LAM","x":262,"v":0.205},{"s":"LAM","x":265,"v":0.14},{"s":"LAM","x":269,"v":0.11},{"s":"LAM","x":270,"v":0.1},{"s":"LAM","x":272,"v":0.17},{"s":"LAM","x":275,"v":0.2},{"s":"LAM","x":279,"v":0.186},{"s":"LAM","x":282,"v":0.195},{"s":"LAM","x":285,"v":0.21},{"s":"LAM","x":289,"v":0.17},{"s":"LAM","x":292,"v":0.13},{"s":"LAM","x":297,"v":0.13},{"s":"LAM","x":302,"v":0.125},{"s":"LAM","x":307,"v":0.116},{"s":"LAM","x":310,"v":0.1},{"s":"LAM","x":314,"v":0.08},{"s":"LAM","x":317,"v":0.07},{"s":"LAM","x":320,"v":0.093},{"s":"LAM","x":324,"v":0.125},{"s":"LAM","x":327,"v":0.155},{"s":"LAM","x":330,"v":0.093},{"s":"LAM","x":335,"v":0.11},{"s":"LAM","x":340,"v":0.116},{"s":"LAM","x":345,"v":0.13},{"s":"LAM","x":350,"v":0.14},{"s":"LAM","x":354,"v":0.155},{"s":"LAM","x":357,"v":0.186},{"s":"LAM","x":360,"v":0.15},{"s":"LAM","x":364,"v":0.186},{"s":"LAM","x":367,"v":0.14},{"s":"LAM","x":369,"v":0.18},{"s":"LAM","x":372,"v":0.186},{"s":"LAM","x":374,"v":0.21},{"s":"LAM","x":377,"v":0.218},{"s":"LAM","x":379,"v":0.255},{"s":"LAM","x":384,"v":0.30},{"s":"LAM","x":389,"v":0.364},{"s":"LAM","x":392,"v":0.42},{"s":"LAM","x":395,"v":0.457},{"s":"LAM","x":399,"v":0.473},{"s":"LAM","x":402,"v":0.427},{"s":"LAM","x":404,"v":0.52},{"s":"LAM","x":407,"v":0.55},{"s":"LAM","x":410,"v":0.566},{"s":"LAM","x":415,"v":0.58},{"s":"LAM","x":419,"v":0.534},{"s":"LAM","x":422,"v":0.59},{"s":"LAM","x":425,"v":0.626},{"s":"LAM","x":429,"v":0.66},{"s":"LAM","x":432,"v":0.705},{"s":"LAM","x":435,"v":0.765},{"s":"LAM","x":439,"v":0.835},{"s":"LAM","x":441,"v":0.88},{"s":"LAM","x":444,"v":0.86},{"s":"LAM","x":447,"v":0.83},{"s":"LAM","x":450,"v":0.79},{"s":"LAM","x":454,"v":0.75},{"s":"LAM","x":459,"v":0.705},{"s":"LAM","x":462,"v":0.673},{"s":"LAM","x":467,"v":0.626},{"s":"LAM","x":470,"v":0.58},{"s":"LAM","x":474,"v":0.487},{"s":"LAM","x":477,"v":0.30},{"s":"LAM","x":480,"v":0.225},{"s":"LAM","x":484,"v":0.13},{"s":"LAM","x":486,"v":0.04},{"s":"LAM","x":489,"v":0.023},{"s":"LAM","x":492,"v":0.055},{"s":"LAM","x":495,"v":0.032},{"s":"LAM","x":499,"v":0.1},{"s":"LAM","x":502,"v":0.14},{"s":"LAM","x":505,"v":0.18},{"s":"LAM","x":509,"v":0.24},{"s":"LAM","x":512,"v":0.255},{"s":"LAM","x":515,"v":0.30},{"s":"LAM","x":519,"v":0.44},{"s":"LAM","x":522,"v":0.487},{"s":"LAM","x":525,"v":0.473},{"s":"LAM","x":528,"v":0.527},{"s":"LAM","x":530,"v":0.473},{"s":"LAM","x":535,"v":0.457},{"s":"LAM","x":540,"v":0.487},{"s":"LAM","x":545,"v":0.527},{"s":"LAM","x":549,"v":0.44},{"s":"LAM","x":554,"v":0.395},{"s":"LAM","x":559,"v":0.45},{"s":"LAM","x":562,"v":0.464},{"s":"LAM","x":565,"v":0.41},{"s":"LAM","x":569,"v":0.38},{"s":"LAM","x":572,"v":0.334},{"s":"LAM","x":575,"v":0.395},{"s":"LAM","x":580,"v":0.427},{"s":"LAM","x":585,"v":0.457},{"s":"LAM","x":589,"v":0.41},{"s":"LAM","x":594,"v":0.473},{"s":"LAM","x":599,"v":0.534},{"s":"LAM","x":604,"v":0.52},{"s":"LAM","x":607,"v":0.487},{"s":"LAM","x":610,"v":0.473},{"s":"LAM","x":615,"v":0.487},{"s":"LAM","x":619,"v":0.457},{"s":"LAM","x":624,"v":0.473},{"s":"LAM","x":629,"v":0.457},{"s":"LAM","x":634,"v":0.473},{"s":"LAM","x":637,"v":0.46},{"s":"LAM","x":639,"v":0.37},{"s":"LAM","x":642,"v":0.427},{"s":"LAM","x":647,"v":0.473},{"s":"LAM","x":652,"v":0.487},{"s":"LAM","x":655,"v":0.55},{"s":"LAM","x":659,"v":0.69},{"s":"LAM","x":662,"v":0.805},{"s":"LAM","x":665,"v":0.9},{"s":"LAM","x":669,"v":0.95},{"s":"LAM","x":672,"v":0.97},{"s":"LAM","x":675,"v":0.94},{"s":"LAM","x":679,"v":0.95},{"s":"LAM","x":682,"v":0.98},{"s":"LAM","x":685,"v":1.0},{"s":"LAM","x":689,"v":0.98},{"s":"LAM","x":692,"v":0.95},{"s":"LAM","x":695,"v":0.94},{"s":"LAM","x":699,"v":0.86},{"s":"LAM","x":702,"v":0.78},{"s":"LAM","x":705,"v":0.72},{"s":"LAM","x":710,"v":0.68}
]
},
"layer": [
{
"data": {"name": "series"},
"mark": {"type": "line", "strokeWidth": 3, "clip": true},
"encoding": {
"x": {"field": "x", "type": "quantitative",
"scale": {"domain": [0, 710], "nice": false, "zero": false},
"axis": {"orient": "bottom", "values": [0, 40, 214, 239, 329, 467, 530, 620.5, 627, 694.5],
"labelExpr": "datum.value == 0 ? '0' : ''", "labelFlush": false, "grid": true, "gridColor": "#e4e4e4", "gridWidth": 1,
"tickSize": -5, "tickColor": "#888888", "domainColor": "#888888",
"labelFontSize": 20, "labelColor": "#262626", "labelPadding": 12,
"title": "window", "titleFontSize": 22, "titleFontWeight": "normal", "titleColor": "#000000", "titlePadding": 10}},
"y": {"field": "v", "type": "quantitative",
"scale": {"domain": [0, 1], "nice": false},
"axis": {"orient": "left", "values": [0, 0.2, 0.4, 0.6, 0.8, 1], "format": ".1~f", "grid": false, "labelFlush": false,
"tickSize": -5, "tickColor": "#888888", "domainColor": "#888888",
"labelFontSize": 20, "labelColor": "#262626", "labelPadding": 6,
"title": "normalized values", "titleFontSize": 22, "titleFontWeight": "normal", "titleColor": "#000000", "titlePadding": 4}},
"color": {"field": "s", "type": "nominal",
"scale": {"domain": ["RR", "DET", "L", "TT", "LAM"], "range": ["#0000ff", "#ff0000", "#008000", "#ff00ff", "#000000"]},
"legend": {"title": null, "orient": "none", "legendX": 55, "legendY": 6, "symbolType": "stroke", "symbolSize": 576,
"symbolStrokeWidth": 3, "labelFontSize": 17, "labelColor": "#000000", "strokeColor": "#777777", "fillColor": "#ffffff",
"padding": 3, "rowPadding": -4, "labelOffset": 2}}
}
},
{
"data": {"name": "ann"},
"mark": {"type": "rule", "strokeWidth": 1.5, "color": "#000000"},
"encoding": {
"x": {"field": "x", "type": "quantitative", "axis": null},
"y": {"field": "y1", "type": "quantitative", "axis": null},
"y2": {"field": "y2"}
}
},
{
"data": {"name": "ann"},
"transform": [{"filter": "datum.dir == 'down'"}],
"mark": {"type": "point", "shape": "M0,0L-0.5,-2L0.5,-2Z", "filled": true, "color": "#000000", "opacity": 1, "size": 100, "strokeWidth": 0},
"encoding": {
"x": {"field": "x", "type": "quantitative", "axis": null},
"y": {"field": "y2", "type": "quantitative", "axis": null}
}
},
{
"data": {"name": "ann"},
"transform": [{"filter": "datum.dir == 'up'"}],
"mark": {"type": "point", "shape": "M0,0L-0.5,2L0.5,2Z", "filled": true, "color": "#000000", "opacity": 1, "size": 100, "strokeWidth": 0},
"encoding": {
"x": {"field": "x", "type": "quantitative", "axis": null},
"y": {"field": "y2", "type": "quantitative", "axis": null}
}
},
{
"data": {"name": "ann"},
"mark": {"type": "text", "font": "Liberation Serif", "fontSize": 21, "color": "#000000", "baseline": "middle", "align": "center"},
"encoding": {
"x": {"field": "x", "type": "quantitative",
"axis": {"orient": "top", "values": [0, 40, 214, 239, 329, 467, 530, 620.5, 627, 694.5], "labels": false, "ticks": true,
"tickSize": -5, "tickColor": "#888888", "domainColor": "#888888", "grid": false, "title": null}},
"y": {"field": "ty", "type": "quantitative", "axis": null},
"text": {"field": "lab"}
}
}
],
"resolve": {"axis": {"x": "independent", "y": "independent"}}
}
